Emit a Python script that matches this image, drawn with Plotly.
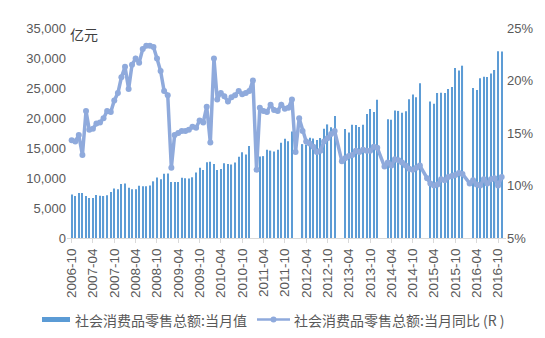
import pandas as pd
import plotly.graph_objects as go

# Monthly categories, 2006-10 through 2016-11
months = pd.date_range("2006-10-01", "2016-11-01", freq="MS").strftime("%Y-%m-%d").tolist()

# 社会消费品零售总额:当月值 (亿元); None = month not published separately
retail_sales = [
    7234, 7014, 7499,                                                          # 2006 Oct-Dec
    7488, 7014, 6686, 6673, 7158, 7026, 6998, 7117, 7668, 8263, 8105, 9015,    # 2007
    9077, 8355, 8123, 8142, 8704, 8642, 8629, 8768, 9447, 10083, 9791, 10729,  # 2008
    10757, 9324, 9318, 9343, 10028, 9942, 9937, 10116, 10913, 11718, 11339, 12610,  # 2009
    12718, 12334, 11322, 11510, 12455, 12330, 12252, 12570, 13537, 14285, 13911, 15329,  # 2010
    None, None, 13588, 13649, 14696, 14565, 14408, 14705, 15865, 16547, 16128, 17740,  # 2011
    None, None, 15650, 15603, 16715, 16584, 16315, 16659, 18227, 18934, 18477, 20334,  # 2012
    None, None, 18164, 17600, 18886, 18827, 18513, 18886, 20653, 21491, 21012, 23060,  # 2013
    None, None, 19800, 19701, 21250, 21181, 20890, 21134, 23131, 23900, 23475, 25801,  # 2014
    None, None, 22770, 22380, 24170, 24200, 24170, 24830, 25170, 28330, 27930, 28720,  # 2015
    None, None, 25000, 24646, 26610, 26857, 26827, 27400, 28005, 31119, 31097,         # 2016 to Nov
]

# 社会消费品零售总额:当月同比 (%)
retail_yoy = [
    14.3, 14.2, 14.8,
    12.9, 17.1, 15.3, 15.4, 15.9, 16.0, 16.4, 17.1, 17.0, 18.1, 18.8, 20.3,
    21.3, 19.2, 21.5, 22.1, 21.7, 23.0, 23.3, 23.3, 23.2, 22.1, 20.9, 19.0,
    18.6, 11.7, 14.8, 15.0, 15.2, 15.2, 15.3, 15.6, 15.5, 16.2, 16.0, 17.5,
    14.1, 22.1, 18.2, 18.8, 18.5, 18.0, 18.4, 18.6, 19.0, 18.7, 18.8, 19.0,
    20.0, 11.5, 17.4, 17.1, 17.0, 17.7, 17.2, 17.1, 17.7, 17.3, 17.4, 18.2,
    13.2, 16.4, 15.2, 14.2, 14.0, 13.7, 13.2, 13.3, 14.2, 14.5, 14.9, 15.2,
    None, 12.3, 12.6, 12.8, 12.9, 13.3, 13.2, 13.4, 13.3, 13.3, 13.7, 13.6,
    None, 11.8, 12.2, 11.9, 12.5, 12.4, 12.2, 11.9, 11.6, 11.5, 11.7, 11.9,
    None, 10.7, 10.2, 10.0, 10.1, 10.6, 10.5, 10.8, 10.9, 11.0, 11.2, 11.1,
    None, 10.2, 10.5, 10.1, 10.0, 10.6, 10.2, 10.6, 10.7, 10.0, 10.8,
]

tick_months = months[::6]
tick_labels = [m[:7] for m in tick_months]
left_ticks = [0, 5000, 10000, 15000, 20000, 25000, 30000, 35000]
right_ticks = [5, 10, 15, 20, 25]
right_labels = [f"{v}%" for v in right_ticks]

BAR_BLUE = "#5B9BD5"
LINE_BLUE = "#8FAADC"
TEXT_GREY = "#595959"
LATIN = "Liberation Sans, Arial, sans-serif"
CJK = "Noto Sans CJK SC, sans-serif"

fig = go.Figure()
# slightly-below-1 opacity makes plotly round bar edges instead of widening thin bars
fig.add_bar(x=months, y=retail_sales, marker=dict(color=BAR_BLUE, line=dict(width=0), opacity=0.99),
            name="社会消费品零售总额:当月值", showlegend=False)
fig.add_scatter(x=months, y=retail_yoy, yaxis="y2", mode="lines+markers", connectgaps=True,
                line=dict(color=LINE_BLUE, width=3.5), marker=dict(size=6, color=LINE_BLUE),
                name="社会消费品零售总额:当月同比 (R )", showlegend=False)

# plot area in pixels: x 67..506, y 28..238
L, R, T, B = 67, 506, 28, 238
def px(xp):
    return (xp - L) / (R - L)
def py(yp):
    return (B - yp) / (B - T)

legend_y = py(319.5)
shapes = [
    dict(type="rect", xref="paper", yref="paper", x0=px(42), x1=px(70), y0=py(322), y1=py(317),
         fillcolor=BAR_BLUE, line=dict(width=0)),
    dict(type="line", xref="paper", yref="paper", x0=px(257), x1=px(290), y0=legend_y, y1=legend_y,
         line=dict(color=LINE_BLUE, width=2.5)),
    dict(type="circle", xref="paper", yref="paper", x0=px(270.5), x1=px(276.5), y0=py(322.5), y1=py(316.5),
         fillcolor=LINE_BLUE, line=dict(width=0)),
]
annotations = [
    dict(text="亿元", xref="paper", yref="paper", x=px(68), y=py(34), xanchor="left", yanchor="middle",
         showarrow=False, font=dict(family=CJK, size=14, color="#404040")),
    dict(text="社会消费品零售总额:当月值", xref="paper", yref="paper", x=px(73), y=legend_y,
         xanchor="left", yanchor="middle", showarrow=False, font=dict(family=CJK, size=14, color=TEXT_GREY)),
    dict(text="社会消费品零售总额:当月同比 (R )", xref="paper", yref="paper", x=px(292), y=legend_y,
         xanchor="left", yanchor="middle", showarrow=False, font=dict(family=CJK, size=14, color=TEXT_GREY)),
]

fig.update_layout(
    width=545, height=338,
    margin=dict(l=L, r=545 - R, t=T, b=338 - B),
    paper_bgcolor="white", plot_bgcolor="white",
    bargap=0.64,
    showlegend=False,
    shapes=shapes, annotations=annotations,
    xaxis=dict(type="date", range=["2006-08-22", "2016-12-08"],
               tickmode="array", tickvals=tick_months, ticktext=tick_labels, tickangle=-90,
               ticks="outside", ticklen=4, tickcolor="#D9D9D9",
               showline=True, linecolor="#D9D9D9", linewidth=1, showgrid=False, zeroline=False,
               tickfont=dict(family=LATIN, size=13.5, color=TEXT_GREY)),
    yaxis=dict(range=[0, 35000], tickmode="array", tickvals=left_ticks, tickformat=",",
               showgrid=False, zeroline=False, showline=False, ticks="",
               tickfont=dict(family=LATIN, size=13, color=TEXT_GREY)),
    yaxis2=dict(range=[5, 25], overlaying="y", side="right", tickmode="array", tickvals=right_ticks,
                ticktext=right_labels, showgrid=False, zeroline=False, showline=False, ticks="",
                tickfont=dict(family=LATIN, size=13, color=TEXT_GREY)),
)

fig.write_html("out.html")
